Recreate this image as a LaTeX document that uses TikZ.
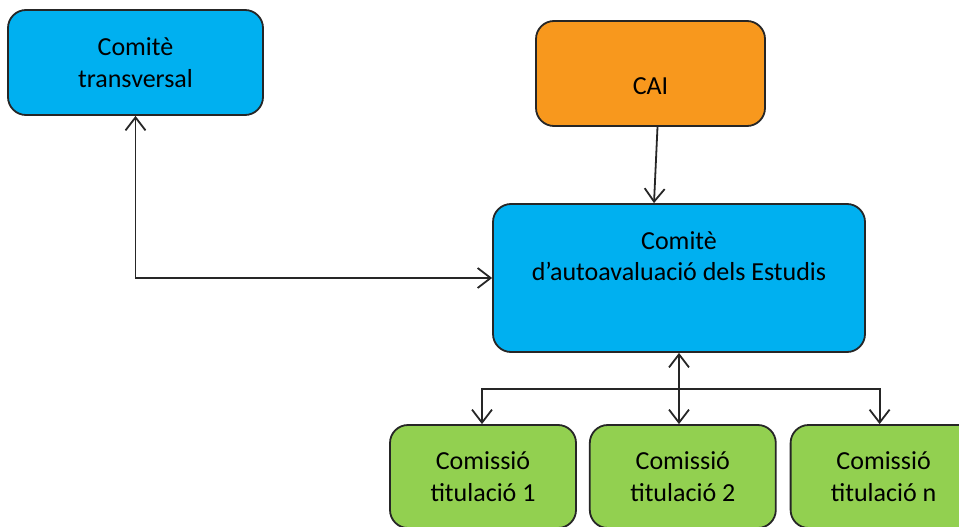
\documentclass[tikz,border=0pt]{standalone}
\usepackage{fontspec}
\setmainfont{Carlito}
\usepackage{xcolor}
\usetikzlibrary{positioning,arrows.meta}
\definecolor{comblue}{HTML}{00B0F0}
\definecolor{caiorange}{HTML}{F8981D}
\definecolor{titgreen}{HTML}{92D050}

\begin{document}
\begin{tikzpicture}[
  x=1pt, y=-1pt,
  font=\fontsize{26}{31.5}\selectfont,
  node distance=12pt and 12pt,
  box/.style={draw=black!85, line width=1.8pt, rounded corners=18pt, inner sep=0pt, align=center},
  bluebox/.style={box, fill=comblue},
  orangebox/.style={box, fill=caiorange},
  greenbox/.style={box, fill=titgreen, minimum width=186pt, minimum height=103pt},
  arrow/.style={-{Straight Barb[length=13pt,width=20pt,line width=1.8pt]}, line width=1.8pt, draw=black!85},
  biarrow/.style={{Straight Barb[length=13pt,width=20pt,line width=1.8pt]}-{Straight Barb[length=13pt,width=20pt,line width=1.8pt]}, line width=1.8pt, draw=black!85}
]
\useasboundingbox (0,0) rectangle (959,527);
\clip (0,0) rectangle (959,527);

% Top boxes
\node[bluebox, minimum width=255pt, minimum height=105pt] (trans) at (135.5,62.5) {Comitè\\transversal};
\node[orangebox, minimum width=229pt, minimum height=105pt] (cai) at (650.5,73.5) {};
\node (caitext) at ([yshift=-13pt]cai.center) {CAI};

% Main committee
\node[bluebox, minimum width=372pt, minimum height=148pt] (cae) at (679,278) {};
\node[align=center] (caetext) at ([yshift=22pt]cae.center) {Comitè\\d’autoavaluació dels Estudis};

% Commissions
\node[greenbox] (tit1) at (483,476.5) {Comissió\\titulació 1};
\node[greenbox, right=12pt of tit1] (tit2) {Comissió\\titulació 2};
\node[greenbox, right=13pt of tit2] (tit3) {Comissió\\titulació n};

% Arrows
\draw[biarrow] (trans.south) |- (cae.west);
\draw[arrow] ([xshift=7pt]cai.south) -- ([xshift=-25pt]cae.north);

\coordinate (hub) at ([yshift=-36pt]cae.south);
\draw[arrow] (hub) -- (cae.south);
\draw[arrow] (hub) -- (hub |- tit2.north);
\draw[arrow] (hub) -| ([xshift=-1pt]tit1.north);
\draw[arrow] (hub) -| ([xshift=-4pt]tit3.north);

\end{tikzpicture}
\end{document}
